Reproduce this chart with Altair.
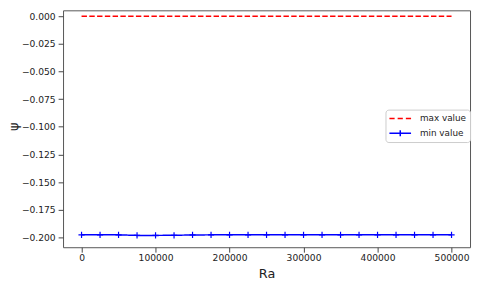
import altair as alt
import pandas as pd

ra = [0, 25000, 50000, 75000, 100000, 125000, 150000, 175000, 200000, 225000,
      250000, 275000, 300000, 325000, 350000, 375000, 400000, 425000, 450000,
      475000, 500000]
max_vals = [0.0, 0.0, 0.0, 0.0, 0.0, 0.0, 0.0, 0.0, 0.0, 0.0, 0.0,
            0.0, 0.0, 0.0, 0.0, 0.0, 0.0, 0.0, 0.0, 0.0, 0.0]
min_vals = [-0.1977, -0.1977, -0.1977, -0.1982, -0.1982, -0.1981, -0.1978,
            -0.1977, -0.1977, -0.1977, -0.1977, -0.1977, -0.1977, -0.1977,
            -0.1977, -0.1977, -0.1977, -0.1977, -0.1977, -0.1977, -0.1977]
series_names = ["max value", "min value"]
x_ticks = [0, 100000, 200000, 300000, 400000, 500000]
y_ticks = [-0.2, -0.175, -0.15, -0.125, -0.1, -0.075, -0.05, -0.025, 0.0]

rows = []
for r, v in zip(ra, max_vals):
    rows.append({"Ra": r, "psi": v, "series": series_names[0]})
for r, v in zip(ra, min_vals):
    rows.append({"Ra": r, "psi": v, "series": series_names[1]})
df = pd.DataFrame(rows)

FONT = "DejaVu Sans"
color_scale = alt.Scale(domain=series_names, range=["#ff0000", "#0000ff"])

x_enc = alt.X("Ra:Q", scale=alt.Scale(domain=[-25000, 525000], nice=False, zero=False),
              axis=alt.Axis(values=x_ticks, format="d", title="Ra", grid=False,
                            domain=False, tickSize=5, tickColor="#444",
                            labelFontSize=9.3, labelColor="#222", labelFont=FONT,
                            labelPadding=2, titleFont=FONT, titleFontSize=13,
                            titleFontWeight="normal", titleColor="#222",
                            titlePadding=4))
y_enc = alt.Y("psi:Q", scale=alt.Scale(domain=[-0.2089, 0.00533], nice=False, zero=False),
              axis=alt.Axis(values=y_ticks, format=".3f", title="ψ", grid=False,
                            domain=False, tickSize=5, tickColor="#444",
                            labelFontSize=9.3, labelColor="#222", labelFont=FONT,
                            labelPadding=3, titleFont=FONT, titleFontSize=13,
                            titleFontWeight="normal", titleColor="#222",
                            titleX=-50, titleY=118, titleAngle=270,
                            titleBaseline="middle", titleAlign="center"))

lines = alt.Chart(df).mark_line(strokeWidth=1.5).encode(
    x=x_enc, y=y_enc,
    color=alt.Color("series:N", scale=color_scale, legend=None),
    strokeDash=alt.StrokeDash("series:N",
                              scale=alt.Scale(domain=series_names, range=[[5.5, 2.4], [1, 0]]),
                              legend=None),
)

markers = alt.Chart(df).transform_filter(
    alt.datum.series == series_names[1]
).mark_point(shape="M-1,0L1,0M0,-1L0,1", filled=False, size=40, strokeWidth=1.2,
             color="#0000ff", opacity=1).encode(x=x_enc, y=y_enc)

dash_path = "M-1,0L-0.52,0M-0.24,0L0.24,0M0.52,0L1,0"
plus_path = "M-1,0L1,0M0,-0.28L0,0.28"
leg = alt.Legend(title=None, orient="none", legendX=328, legendY=101,
                 symbolSize=484, symbolStrokeWidth=1.5, symbolOpacity=1,
                 clipHeight=12, labelFont=FONT, labelFontSize=9, labelColor="#222",
                 labelOffset=8, padding=3, strokeColor="#cccccc", fillColor="white",
                 cornerRadius=3, rowPadding=3)

legend_layer = alt.Chart(df).mark_point(size=0, filled=False, strokeWidth=1.5).encode(
    x=x_enc, y=y_enc,
    color=alt.Color("series:N", scale=color_scale, legend=leg),
    shape=alt.Shape("series:N", scale=alt.Scale(domain=series_names, range=[dash_path, plus_path]),
                    legend=leg),
)

chart = alt.layer(lines, markers, legend_layer).resolve_legend(
    color="independent", shape="independent", strokeDash="independent"
).properties(
    width=414, height=241,
    autosize=alt.AutoSizeParams(type="none"),
    padding={"left": 56, "top": 0, "right": 2, "bottom": 33},
    background="white",
).configure_view(stroke="#555555", strokeWidth=1)

chart.save("out.html", embed_options={"renderer": "svg", "actions": False})
